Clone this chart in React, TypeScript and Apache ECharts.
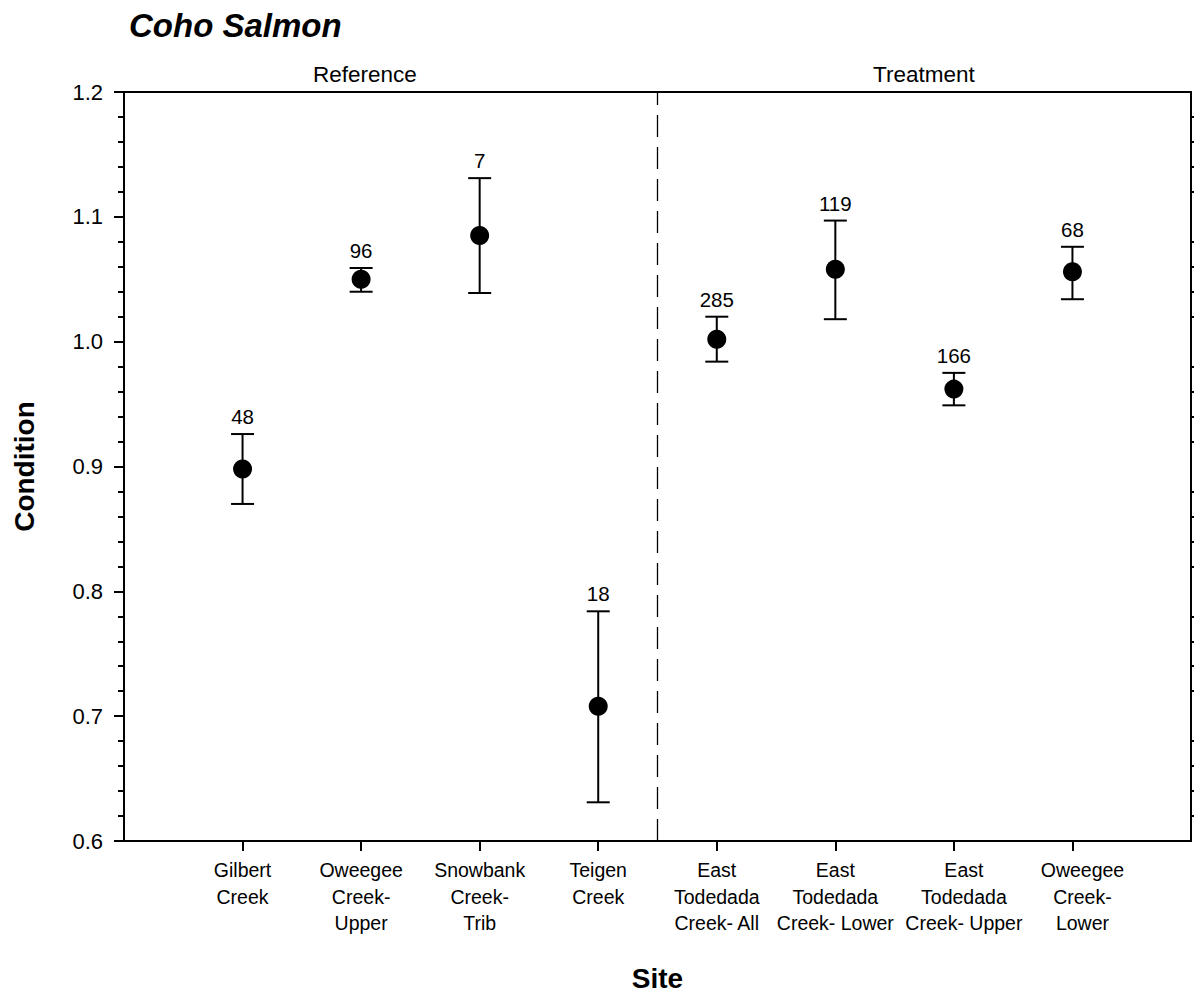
import React, { useEffect, useRef } from "react";
import * as echarts from "echarts";

const siteLabels = [
  "Gilbert\nCreek",
  "Oweegee\nCreek-\nUpper",
  "Snowbank\nCreek-\nTrib",
  "Teigen\nCreek",
  "East\nTodedada\nCreek- All",
  "East\nTodedada\nCreek- Lower",
  "East\nTodedada\nCreek- Upper",
  "Oweegee\nCreek-\nLower",
];
const sitePositions = [1, 2, 3, 4, 5, 6, 7, 8];
const labelPositions = [1, 2, 3, 4, 5, 6, 7, 8, 9];
const shiftedLabels = [7, 8];
const means = [0.898, 1.05, 1.085, 0.708, 1.002, 1.058, 0.962, 1.056];
const upper = [0.926, 1.059, 1.131, 0.784, 1.02, 1.097, 0.975, 1.076];
const lower = [0.87, 1.04, 1.039, 0.631, 0.984, 1.018, 0.949, 1.034];
const counts = [48, 96, 7, 18, 285, 119, 166, 68];
const groupDivider = 4.5;
const groupNames = ["Reference", "Treatment"];
const yTicks = [0.6, 0.7, 0.8, 0.9, 1.0, 1.1, 1.2];

const FONT = '"Liberation Sans", Arial, sans-serif';
const LABEL_SIZE = 19.5;
const LABEL_LH = 26.5;

export default function App() {
  const ref = useRef<HTMLDivElement>(null);
  useEffect(() => {
    if (!ref.current) return;
    const chart = echarts.init(ref.current, null, { renderer: "svg" });
    const errData = sitePositions.map((x, i) => [x, lower[i], upper[i], counts[i]]);
    const meanData = sitePositions.map((x, i) => [x, means[i]]);
    const option: any = {
      animation: false,
      backgroundColor: "#fff",
      textStyle: { fontFamily: FONT, color: "#000" },
      title: {
        text: "Coho Salmon",
        left: 124,
        top: 4,
        textStyle: {
          fontFamily: FONT,
          fontSize: 33,
          fontWeight: "bold",
          fontStyle: "italic",
          color: "#000",
        },
      },
      grid: { left: 124, right: 6, top: 92, bottom: 155, containLabel: false },
      xAxis: [
        {
          type: "value",
          min: 0,
          max: 9,
          interval: 1,
          position: "bottom",
          name: "Site",
          nameLocation: "middle",
          nameGap: 123,
          nameTextStyle: { fontFamily: FONT, fontSize: 28, fontWeight: "bold", color: "#000" },
          axisLine: { show: true, onZero: false, lineStyle: { color: "#000", width: 2 } },
          axisTick: {
            show: true,
            length: 10,
            inside: false,
            customValues: sitePositions,
            lineStyle: { color: "#000", width: 2 },
          },
          axisLabel: {
            show: true,
            customValues: labelPositions,
            hideOverlap: false,
            margin: 16,
            fontFamily: FONT,
            fontSize: LABEL_SIZE,
            lineHeight: LABEL_LH,
            color: "#000",
            align: "center",
            formatter: (v: number) => {
              const pos = Math.round(v);
              const idx = sitePositions.indexOf(pos);
              if (idx < 0) return "";
              const txt = siteLabels[idx];
              if (shiftedLabels.includes(pos)) {
                return txt
                  .split("\n")
                  .map((l) => `{s|${l}}`)
                  .join("\n");
              }
              return txt;
            },
            rich: {
              s: {
                fontFamily: FONT,
                fontSize: LABEL_SIZE,
                lineHeight: LABEL_LH,
                color: "#000",
                padding: [0, 0, 0, 20],
              },
            },
          },
          splitLine: { show: false },
        },
        {
          type: "value",
          min: 0,
          max: 9,
          position: "top",
          axisLine: { show: true, onZero: false, lineStyle: { color: "#000", width: 2 } },
          axisTick: { show: false },
          axisLabel: { show: false },
          splitLine: { show: false },
        },
      ],
      yAxis: [
        {
          type: "value",
          min: 0.6,
          max: 1.2,
          interval: 0.1,
          position: "left",
          name: "Condition",
          nameLocation: "middle",
          nameRotate: 90,
          nameGap: 86,
          nameTextStyle: { fontFamily: FONT, fontSize: 28, fontWeight: "bold", color: "#000" },
          axisLine: { show: true, onZero: false, lineStyle: { color: "#000", width: 2 } },
          axisTick: { show: true, length: 10, lineStyle: { color: "#000", width: 2 } },
          minorTick: { show: true, splitNumber: 5, length: 6, lineStyle: { color: "#000", width: 2 } },
          axisLabel: {
            margin: 21,
            showMinLabel: true,
            showMaxLabel: true,
            fontFamily: FONT,
            fontSize: 22,
            color: "#000",
            formatter: (v: number) => {
              const t = yTicks.find((k) => Math.abs(k - v) < 1e-6);
              return t !== undefined ? t.toFixed(1) : "";
            },
          },
          splitLine: { show: false },
          minorSplitLine: { show: false },
        },
        {
          type: "value",
          min: 0.6,
          max: 1.2,
          interval: 0.1,
          position: "right",
          axisLine: { show: true, onZero: false, lineStyle: { color: "#000", width: 2 } },
          axisTick: { show: false },
          minorTick: { show: true, splitNumber: 5, length: 3, lineStyle: { color: "#000", width: 2 } },
          axisLabel: { show: false },
          splitLine: { show: false },
          minorSplitLine: { show: false },
        },
      ],
      graphic: [
        {
          type: "text",
          left: 313,
          top: 63,
          style: { text: groupNames[0], font: `22.5px ${FONT}`, fill: "#000" },
        },
        {
          type: "text",
          left: 873,
          top: 63,
          style: { text: groupNames[1], font: `22.5px ${FONT}`, fill: "#000" },
        },
      ],
      series: [
        {
          type: "custom",
          xAxisIndex: 0,
          yAxisIndex: 0,
          data: errData,
          z: 3,
          renderItem: (params: any, api: any) => {
            const x = api.value(0);
            const lo = api.value(1);
            const hi = api.value(2);
            const n = api.value(3);
            const pHi = api.coord([x, hi]);
            const pLo = api.coord([x, lo]);
            const half = 11.5;
            const st = { stroke: "#000", lineWidth: 2 };
            return {
              type: "group",
              children: [
                { type: "line", shape: { x1: pHi[0], y1: pHi[1], x2: pLo[0], y2: pLo[1] }, style: st },
                { type: "line", shape: { x1: pHi[0] - half, y1: pHi[1], x2: pHi[0] + half, y2: pHi[1] }, style: st },
                { type: "line", shape: { x1: pLo[0] - half, y1: pLo[1], x2: pLo[0] + half, y2: pLo[1] }, style: st },
                {
                  type: "text",
                  x: pHi[0],
                  y: pHi[1] - 7,
                  style: {
                    text: String(n),
                    textAlign: "center",
                    textVerticalAlign: "bottom",
                    font: `20.5px ${FONT}`,
                    fill: "#000",
                  },
                },
              ],
            };
          },
        },
        {
          type: "scatter",
          xAxisIndex: 0,
          yAxisIndex: 0,
          data: meanData,
          symbol: "circle",
          symbolSize: 19,
          itemStyle: { color: "#000", opacity: 1 },
          z: 5,
          markLine: {
            silent: true,
            symbol: "none",
            label: { show: false },
            lineStyle: { color: "#000", width: 1.3, type: [22, 10], opacity: 1 },
            data: [{ xAxis: groupDivider }],
          },
        },
      ],
    };
    chart.setOption(option);
    return () => chart.dispose();
  }, []);
  return (
    <div
      ref={ref}
      style={{ position: "absolute", left: 0, top: 0, width: 1197, height: 997 }}
    />
  );
}
